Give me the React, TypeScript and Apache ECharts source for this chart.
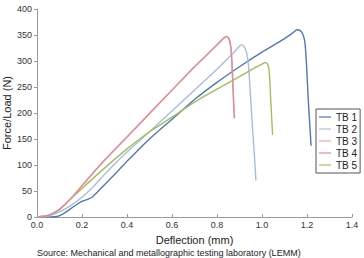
import React, { useEffect, useRef } from "react";
import * as echarts from "echarts";

// Deflection (mm) / force (N) pairs for each test body
const tb1: [number, number][] = [
  [0, 0], [0.06, 0], [0.09, 1], [0.12, 7], [0.15, 16], [0.18, 25], [0.2, 30], [0.23, 35], [0.25, 40],
  [0.3, 62], [0.35, 84], [0.4, 107], [0.45, 129], [0.5, 150], [0.6, 188], [0.7, 226], [0.8, 259],
  [0.9, 289], [1.0, 317], [1.1, 343], [1.14, 355], [1.155, 360], [1.168, 359], [1.18, 353],
  [1.19, 338], [1.197, 300], [1.205, 230], [1.212, 180], [1.218, 137],
];
const tb2: [number, number][] = [
  [0, 0], [0.05, 2], [0.1, 10], [0.15, 22], [0.2, 38], [0.25, 58], [0.3, 82], [0.35, 104], [0.4, 125],
  [0.5, 164], [0.6, 204], [0.7, 244], [0.8, 284], [0.86, 310], [0.895, 326], [0.908, 331],
  [0.92, 328], [0.932, 315], [0.94, 290], [0.948, 240], [0.958, 170], [0.966, 120], [0.973, 70],
];
const tb3: [number, number][] = [
  [0, 0], [0.05, 3], [0.1, 15], [0.15, 35], [0.2, 60], [0.25, 85], [0.3, 109], [0.4, 154],
  [0.5, 199], [0.6, 244], [0.7, 289], [0.76, 314], [0.8, 331], [0.83, 344], [0.843, 347],
  [0.853, 343], [0.861, 328], [0.866, 300], [0.871, 250], [0.877, 190],
];
const tb4: [number, number][] = [
  [0, 0], [0.05, 3], [0.1, 15], [0.15, 35], [0.2, 60], [0.25, 85], [0.3, 109], [0.4, 154],
  [0.5, 199], [0.6, 244], [0.7, 289], [0.76, 314], [0.8, 331], [0.83, 344], [0.843, 347],
  [0.853, 343], [0.861, 328], [0.866, 300], [0.871, 250], [0.877, 190],
];
const tb5: [number, number][] = [
  [0, 0], [0.05, 3], [0.1, 14], [0.15, 35], [0.2, 55], [0.3, 94], [0.4, 131], [0.5, 164],
  [0.6, 192], [0.7, 221], [0.8, 246], [0.9, 270], [0.96, 285], [1.0, 294], [1.015, 297],
  [1.025, 294], [1.032, 280], [1.037, 240], [1.042, 200], [1.047, 158],
];

const seriesNames = ["TB 1", "TB 2", "TB 3", "TB 4", "TB 5"];
const seriesData = [tb1, tb2, tb3, tb4, tb5];
const seriesColors = ["#4f78b5", "#a7bde0", "#e9a9b1", "#e58a95", "#a2bf5e"];

const xAxisTitle = "Deflection (mm)";
const yAxisTitle = "Force/Load (N)";
const sourceNote = "Source: Mechanical and metallographic testing laboratory (LEMM)";

const FONT = "'Liberation Sans', Arial, sans-serif";

export default function App() {
  const ref = useRef<HTMLDivElement>(null);

  useEffect(() => {
    if (!ref.current) return;
    const chart = echarts.init(ref.current, undefined, { renderer: "svg" });
    chart.setOption({
      animation: false,
      backgroundColor: "#ffffff",
      textStyle: { fontFamily: FONT },
      grid: { left: 37, right: 12, top: 9, bottom: 41, outerBoundsMode: "none", containLabel: false },
      legend: {
        orient: "vertical",
        left: 316,
        top: 109,
        data: seriesNames,
        icon: "rect",
        itemWidth: 12,
        itemHeight: 1.2,
        itemGap: 2,
        padding: [3, 3, 3, 3],
        borderColor: "#555",
        borderWidth: 1,
        textStyle: { fontFamily: FONT, fontSize: 10, color: "#222" },
      },
      xAxis: {
        type: "value",
        min: 0,
        max: 1.4,
        interval: 0.2,
        name: xAxisTitle,
        nameLocation: "middle",
        nameGap: 17,
        nameMoveOverlap: false,
        nameTextStyle: { fontFamily: FONT, fontSize: 11, color: "#222" },
        axisLine: { lineStyle: { color: "#9a9a9a", width: 1 } },
        axisTick: { show: true, inside: true, length: 3, lineStyle: { color: "#9a9a9a" } },
        splitLine: { show: false },
        axisLabel: {
          fontFamily: FONT,
          fontSize: 9,
          color: "#333",
          margin: 3,
          formatter: (v: number) => v.toFixed(1),
        },
      },
      yAxis: {
        type: "value",
        min: 0,
        max: 400,
        interval: 50,
        name: yAxisTitle,
        nameLocation: "middle",
        nameGap: 25,
        nameMoveOverlap: false,
        nameTextStyle: { fontFamily: FONT, fontSize: 11, color: "#222" },
        axisLine: { show: true, lineStyle: { color: "#9a9a9a", width: 1 } },
        axisTick: { show: true, length: 3, lineStyle: { color: "#9a9a9a" } },
        splitLine: { show: false },
        axisLabel: { fontFamily: FONT, fontSize: 9, color: "#333", margin: 5 },
      },
      graphic: [
        {
          type: "text",
          left: 37,
          top: 248,
          style: { text: sourceNote, fontFamily: FONT, fontSize: 9, fill: "#222" },
        },
      ],
      series: seriesNames.map((name, i) => ({
        name,
        type: "line",
        data: seriesData[i],
        showSymbol: false,
        symbol: "none",
        smooth: 0.2,
        z: i === 3 ? 3 : 2,
        lineStyle: { color: seriesColors[i], width: 1.4 },
        itemStyle: { color: seriesColors[i] },
      })),
    });
    return () => chart.dispose();
  }, []);

  return <div ref={ref} style={{ width: 364, height: 258, position: "absolute", left: 0, top: 0 }} />;
}
